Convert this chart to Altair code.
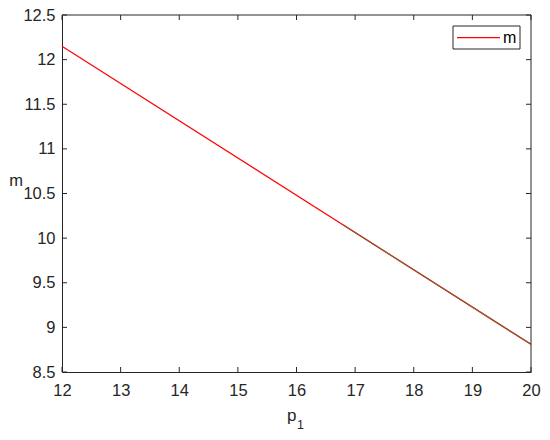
import altair as alt
import pandas as pd

p1 = [12, 20]
m = [12.15, 8.81]
overlay_p1 = [16.8, 20]
overlay_m = [10.146, 8.81]
x_ticks = [12, 13, 14, 15, 16, 17, 18, 19, 20]
y_ticks = [8.5, 9, 9.5, 10, 10.5, 11, 11.5, 12, 12.5]

W, H = 469, 357
AX = "#262626"
FONT = "Liberation Sans"
FS = 16.5

df = pd.DataFrame({"p1": p1, "m": m})
df2 = pd.DataFrame({"p1": overlay_p1, "m": overlay_m})
dfx = pd.DataFrame({"v": x_ticks})
dfy = pd.DataFrame({"v": y_ticks})
one = pd.DataFrame({"v": [0]})

xs = alt.Scale(domain=[12, 20], nice=False)
ys = alt.Scale(domain=[8.5, 12.5], nice=False)

xax = alt.Axis(values=x_ticks, tickSize=0, labelPadding=10, labelFontSize=FS,
               labelColor=AX, domainColor=AX, labelFont=FONT, grid=False, title=None,
               labelFlush=False, format="d")
yax = alt.Axis(values=y_ticks, tickSize=0, labelPadding=7, labelFontSize=FS,
               labelColor=AX, domainColor=AX, labelFont=FONT, grid=False, title=None,
               format=".1~f")

line = alt.Chart(df).mark_line(color="#ff0000", strokeWidth=1.2).encode(
    x=alt.X("p1:Q", scale=xs, axis=xax),
    y=alt.Y("m:Q", scale=ys, axis=yax),
)
line2 = alt.Chart(df2).mark_line(color="#8a5a30", strokeWidth=1.2).encode(
    x=alt.X("p1:Q", scale=xs), y=alt.Y("m:Q", scale=ys)
)

# inward ticks
xt_bot = alt.Chart(dfx).mark_rule(color=AX).encode(
    x=alt.X("v:Q", scale=xs), y=alt.value(H), y2=alt.value(H - 5))
xt_top = alt.Chart(dfx).mark_rule(color=AX).encode(
    x=alt.X("v:Q", scale=xs), y=alt.value(0), y2=alt.value(5))
yt_left = alt.Chart(dfy).mark_rule(color=AX).encode(
    y=alt.Y("v:Q", scale=ys), x=alt.value(0), x2=alt.value(5))
yt_right = alt.Chart(dfy).mark_rule(color=AX).encode(
    y=alt.Y("v:Q", scale=ys), x=alt.value(W), x2=alt.value(W - 5))

# box top/right
top = alt.Chart(one).mark_rule(color=AX).encode(x=alt.value(0), x2=alt.value(W), y=alt.value(0))
right = alt.Chart(one).mark_rule(color=AX).encode(x=alt.value(W), y=alt.value(0), y2=alt.value(H))

# legend
leg_box = alt.Chart(one).mark_rect(fill="white", stroke=AX, strokeWidth=1).encode(
    x=alt.value(391), x2=alt.value(458), y=alt.value(11), y2=alt.value(34))
leg_line = alt.Chart(one).mark_rect(fill="#ff0000", strokeWidth=0).encode(
    x=alt.value(395), x2=alt.value(438), y=alt.value(22), y2=alt.value(23.2))
leg_text = alt.Chart(one).mark_text(text="m", font=FONT, fontSize=16, fontWeight="normal",
                                    color="#000000", align="left", baseline="middle").encode(
    x=alt.value(441), y=alt.value(22.5))

# axis titles
xt1 = alt.Chart(one).mark_text(text="p", font=FONT, fontSize=17, fontWeight="normal", color=AX,
                                align="left", baseline="alphabetic").encode(
    x=alt.value(225), y=alt.value(H + 49))
xt2 = alt.Chart(one).mark_text(text="1", font=FONT, fontSize=12.5, fontWeight="normal", color=AX,
                                align="left", baseline="alphabetic").encode(
    x=alt.value(235), y=alt.value(H + 57))
yt = alt.Chart(one).mark_text(text="m", font=FONT, fontSize=16.5, fontWeight="normal", color=AX,
                               align="center", baseline="middle").encode(
    x=alt.value(-46), y=alt.value(166))

chart = alt.layer(line, line2, xt_bot, xt_top, yt_left, yt_right, top, right,
                  leg_box, leg_line, leg_text, xt1, xt2, yt).properties(
    width=W, height=H,
    autosize=alt.AutoSizeParams(type="none"),
    padding={"left": 54, "top": 7, "right": 11, "bottom": 60},
    background="white",
).configure_view(stroke=None)

chart.save("out.html", embed_options={"renderer": "svg", "actions": False})
